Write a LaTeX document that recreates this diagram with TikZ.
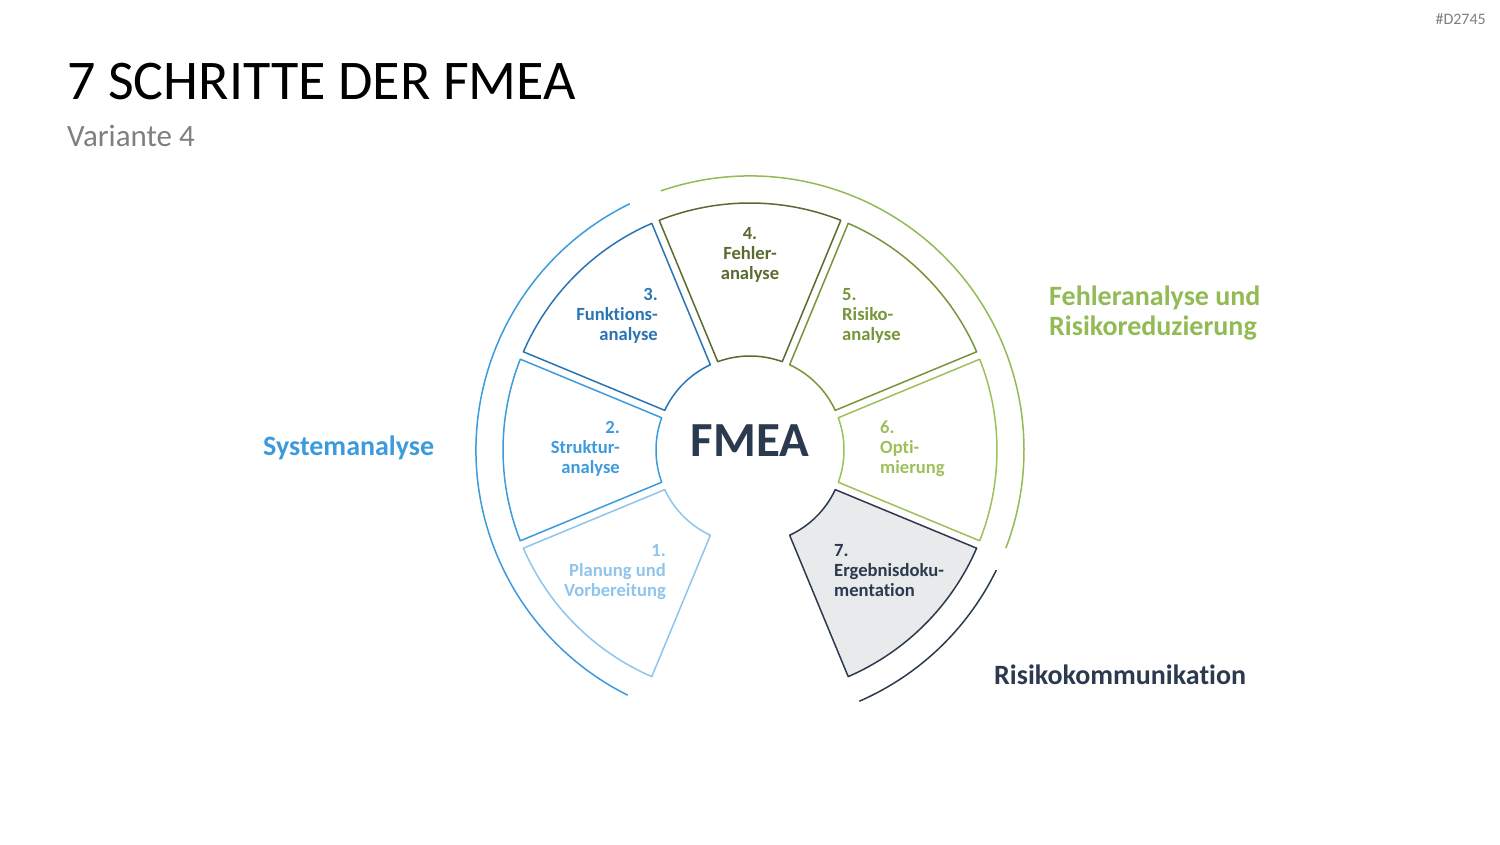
\documentclass[tikz,border=0pt]{standalone}
\usepackage{fontspec}
\setmainfont{Carlito}[Ligatures=NoCommon]
\usetikzlibrary{positioning}
\definecolor{stepone}{HTML}{8FC4EC}
\definecolor{steptwo}{HTML}{3C9BDC}
\definecolor{stepthree}{HTML}{2A74B4}
\definecolor{stepfour}{HTML}{5A6B2F}
\definecolor{stepfive}{HTML}{77953A}
\definecolor{stepsix}{HTML}{9DC05A}
\definecolor{navy}{HTML}{2B3A4E}
\definecolor{paper}{HTML}{E8EAEC}
\definecolor{leaf}{HTML}{92BA55}
\definecolor{muted}{HTML}{7F7F7F}

\begin{document}
\begin{tikzpicture}[x=1pt,y=1pt,
  seg/.style={line width=1.5pt,line join=round},
  ring/.style={line width=1.5pt},
  lbl/.style={font=\fontsize{18.6}{20}\selectfont\bfseries,inner sep=0pt},
  grp/.style={font=\fontsize{28}{30}\selectfont\bfseries,inner sep=0pt,align=left}]
\useasboundingbox (0,0) rectangle (1500,844);
% heading
\node[font=\fontsize{56}{67}\selectfont,anchor=base west,inner sep=0pt] (title) at (67,744) {7 SCHRITTE DER FMEA};
\node[font=\fontsize{31}{37}\selectfont,text=muted,anchor=base west,inner sep=0pt] (variant) at (67,697) {Variante 4};
\node[font=\fontsize{16}{19}\selectfont,text=muted,anchor=base east,inner sep=0pt] (tag) at (1486,819) {\#D2745};
% wheel
\coordinate (ctr) at (750,394);
\begin{scope}[shift={(ctr)}]
\foreach \a/\c in {-135/stepone,180/steptwo,135/stepthree,90/stepfour,45/stepfive,0/stepsix}{\draw[seg,\c] (\a-21.57:247) arc[start angle=\a-21.57,end angle=\a+21.57,radius=247] -- (\a+20.06:94) arc[start angle=\a+20.06,end angle=\a-20.06,radius=94] -- cycle;}
\filldraw[seg,draw=navy,fill=paper] (-66.57:247) arc[start angle=-66.57,end angle=-23.43,radius=247] -- (-24.94:94) arc[start angle=-24.94,end angle=-65.06,radius=94] -- cycle;
\draw[ring,steptwo] (116:274) arc[start angle=116,end angle=243.5,radius=274];
\draw[ring,leaf] (109:274) arc[start angle=109,end angle=-21,radius=274];
\draw[ring,navy] (-26:274) arc[start angle=-26,end angle=-66.5,radius=274];
\end{scope}
\node[font=\fontsize{49}{58}\selectfont\bfseries,text=navy,anchor=base,inner sep=0pt] (fmea) at (750,387) {FMEA};
% step labels
\node[lbl,text=stepone,align=right,anchor=north east] (s1) at (666,300) {1.\\Planung und\\Vorbereitung};
\node[lbl,text=steptwo,align=right,anchor=north east] (s2) at (620,423) {2.\\Struktur-\\analyse};
\node[lbl,text=stepthree,align=right,anchor=north east] (s3) at (658,556) {3.\\Funktions-\\analyse};
\node[lbl,text=stepfour,align=center,anchor=north] (s4) at (750,617) {4.\\Fehler-\\analyse};
\node[lbl,text=stepfive,align=left,anchor=north west] (s5) at (842,556) {5.\\Risiko-\\analyse};
\node[lbl,text=stepsix,align=left,anchor=north west] (s6) at (880,423) {6.\\Opti-\\mierung};
\node[lbl,text=navy,align=left,anchor=north west] (s7) at (834,300) {7.\\Ergebnisdoku-\\mentation};
% group labels
\node[grp,text=steptwo,anchor=base west] (sys) at (263,388) {Systemanalyse};
\node[grp,text=leaf,anchor=north west] (risk) at (1049,558) {Fehleranalyse und\\Risikoreduzierung};
\node[grp,text=navy,anchor=base west] (comm) at (994,159) {Risikokommunikation};
\end{tikzpicture}
\end{document}
